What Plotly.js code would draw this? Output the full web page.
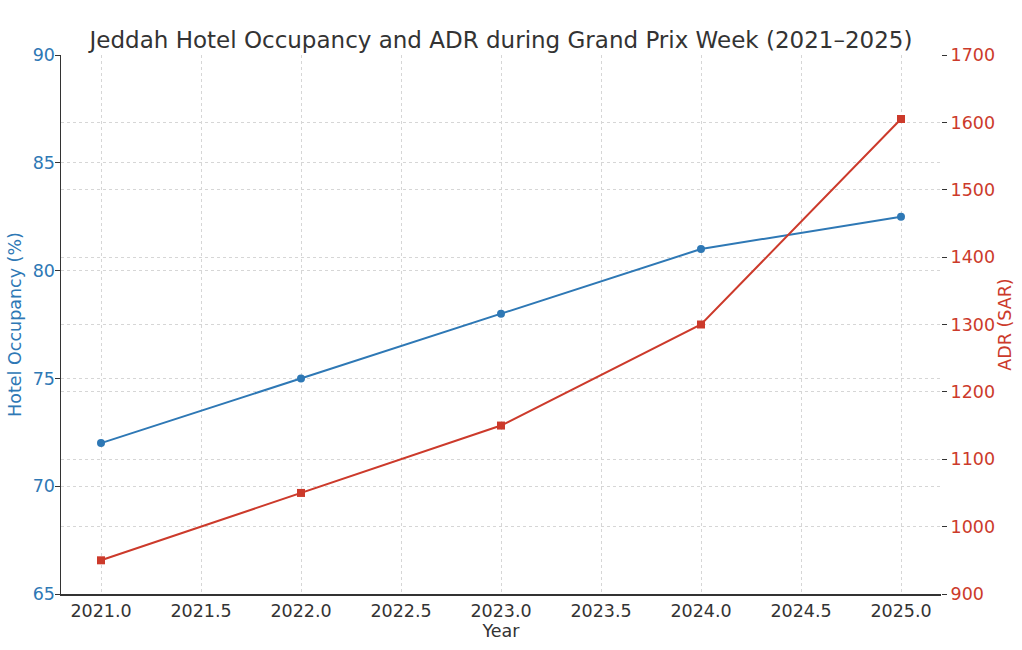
<!DOCTYPE html>
<html>
<head>
<meta charset="utf-8">
<script src="https://cdn.plot.ly/plotly-3.0.1.min.js"></script>
<style>
  html, body { margin: 0; padding: 0; background: #fff; }
  #chart { width: 1022px; height: 650px; }
</style>
</head>
<body>
<div id="chart"></div>
<script>
// values
const years = [2021, 2022, 2023, 2024, 2025];
const occupancy = [72, 75, 78, 81, 82.5];
const adr = [950, 1050, 1150, 1300, 1605];

const blue = '#2e78b5';
const red = '#cc3a2b';
const font = 'DejaVu Sans, sans-serif';
const grid = '#d6d6d6';

const traces = [
  {
    x: years,
    y: occupancy,
    name: 'Hotel Occupancy (%)',
    type: 'scatter',
    mode: 'lines+markers',
    line: {color: blue, width: 2},
    marker: {color: blue, size: 8, symbol: 'circle'},
    yaxis: 'y'
  },
  {
    x: years,
    y: adr,
    name: 'ADR (SAR)',
    type: 'scatter',
    mode: 'lines+markers',
    line: {color: red, width: 2},
    marker: {color: red, size: 8, symbol: 'square'},
    yaxis: 'y2'
  }
];

const layout = {
  width: 1022,
  height: 650,
  showlegend: false,
  paper_bgcolor: '#fff',
  plot_bgcolor: '#fff',
  font: {family: font, size: 17.5, color: '#333'},
  margin: {l: 61, r: 81, t: 55, b: 56},
  title: {
    text: 'Jeddah Hotel Occupancy and ADR during Grand Prix Week (2021–2025)',
    font: {family: font, size: 23, color: '#333'},
    x: 0.5,
    xref: 'paper',
    y: 1,
    yref: 'paper',
    yanchor: 'bottom',
    pad: {b: 7}
  },
  xaxis: {
    range: [2020.8, 2025.2],
    dtick: 0.5,
    tick0: 2021,
    tickformat: '.1f',
    showgrid: true,
    gridcolor: grid,
    griddash: '3px,3px',
    gridwidth: 1,
    zeroline: false,
    showline: true,
    linecolor: '#333',
    linewidth: 1.5,
    ticks: '',
    tickfont: {size: 17.5, color: '#333'},
    title: {text: 'Year', font: {size: 17.5, color: '#333'}, standoff: 4}
  },
  yaxis: {
    range: [65, 90],
    dtick: 5,
    showgrid: true,
    gridcolor: grid,
    griddash: '3px,3px',
    zeroline: false,
    showline: true,
    linecolor: '#333',
    linewidth: 1.5,
    ticks: 'outside',
    ticklen: 5,
    tickcolor: '#333',
    ticklabelstandoff: -4,
    tickfont: {size: 17.5, color: blue},
    title: {text: 'Hotel Occupancy (%)', font: {size: 17.5, color: blue}, standoff: 6}
  },
  yaxis2: {
    range: [900, 1700],
    dtick: 100,
    overlaying: 'y',
    side: 'right',
    showgrid: true,
    gridcolor: grid,
    griddash: '3px,3px',
    zeroline: false,
    showline: false,
    ticks: 'outside',
    ticklen: 5,
    tickcolor: '#333',
    tickfont: {size: 17.5, color: red},
    title: {text: 'ADR (SAR)', font: {size: 17.5, color: red}, standoff: 4}
  }
};

Plotly.newPlot('chart', traces, layout, {displayModeBar: false, staticPlot: true});
</script>
</body>
</html>
